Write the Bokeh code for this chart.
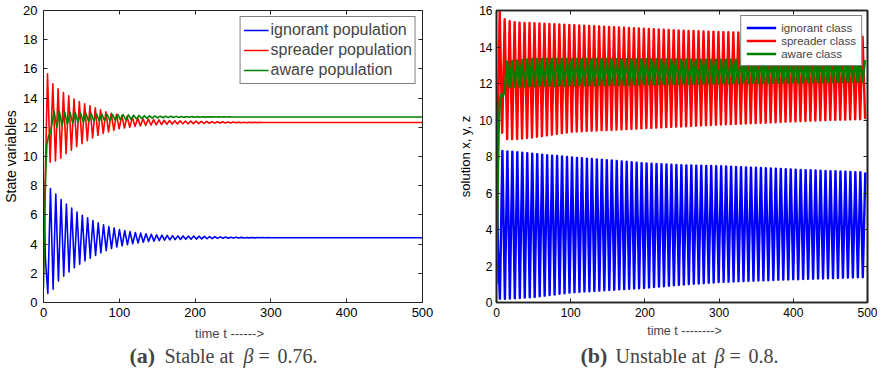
import numpy as np
from bokeh.plotting import figure
from bokeh.models import Range1d, LinearAxis, FixedTicker, Label, Legend, LegendItem
from bokeh.layouts import row, column
from bokeh.embed import file_html
from bokeh.resources import INLINE

# ---------------- data ----------------
T_END = 500.0

# Panel (a): stable at beta = 0.76
period_a = 7.0
ign_a_pre_t = [0.0, 2.5]
ign_a_pre_v = [8.4, 3.0]
spr_a_pre_t = [0.0, 2.5]
spr_a_pre_v = [2.0, 9.0]
awa_a_pre_t = [0.0, 1.5, 3.0, 4.5, 6.5, 9.0, 11.0]
awa_a_pre_v = [1.0, 5.5, 9.0, 10.8, 11.4, 11.6, 12.2]
ign_a_env_t = [5, 10, 20, 30, 40, 50, 60, 70, 80, 90, 100, 120, 140, 160, 180, 200, 230, 260, 300]
ign_a_hi = [7.8, 7.8, 7.2, 6.75, 6.35, 6.0, 5.75, 5.5, 5.3, 5.15, 5.0, 4.8, 4.68, 4.6, 4.56, 4.55, 4.5, 4.46, 4.44]
ign_a_lo = [0.6, 0.7, 1.5, 1.95, 2.35, 2.7, 3.0, 3.25, 3.5, 3.7, 3.85, 4.05, 4.18, 4.27, 4.32, 4.34, 4.39, 4.42, 4.44]
spr_a_env_t = [5, 10, 20, 30, 40, 50, 60, 70, 80, 90, 100, 120, 140, 160, 180, 200, 230, 260, 300]
spr_a_hi = [15.7, 15.1, 14.6, 14.25, 13.95, 13.7, 13.5, 13.3, 13.1, 12.95, 12.85, 12.65, 12.55, 12.48, 12.44, 12.42, 12.38, 12.35, 12.33]
spr_a_lo = [9.6, 9.6, 9.75, 10.2, 10.55, 10.85, 11.15, 11.4, 11.6, 11.75, 11.9, 12.05, 12.15, 12.2, 12.24, 12.25, 12.29, 12.31, 12.33]
awa_a_env_t = [14, 20, 30, 40, 50, 60, 80, 100, 130, 160, 200, 250]
awa_a_hi = [13.1, 13.1, 13.05, 13.0, 12.98, 12.95, 12.9, 12.88, 12.8, 12.76, 12.73, 12.71]
awa_a_lo = [12.0, 12.0, 12.2, 12.3, 12.35, 12.4, 12.45, 12.5, 12.6, 12.66, 12.69, 12.71]
ign_a_eq, spr_a_eq, awa_a_eq = 4.44, 12.33, 12.71

# Panel (b): unstable at beta = 0.8
period_b = 6.7
ign_b_pre_t = [0.0, 2.0]
ign_b_pre_v = [8.4, 3.0]
spr_b_pre_t = [0.0, 2.0]
spr_b_pre_v = [2.0, 10.0]
awa_b_pre_t = [0.0, 1.5, 3.0, 4.5, 6.0, 8.5, 11.0]
awa_b_pre_v = [1.0, 6.0, 9.5, 11.0, 11.4, 11.3, 11.6]
ign_b_env_t = [4, 10, 50, 100, 150, 200, 250, 300, 350, 400, 450, 500]
ign_b_hi = [8.3, 8.3, 8.15, 7.95, 7.8, 7.62, 7.52, 7.47, 7.38, 7.28, 7.2, 7.12]
ign_b_lo = [0.2, 0.2, 0.3, 0.55, 0.68, 0.8, 0.98, 1.12, 1.2, 1.27, 1.33, 1.4]
spr_b_env_t = [4, 8, 14, 25, 50, 100, 150, 200, 250, 300, 350, 400, 450, 500]
spr_b_hi = [16.0, 15.6, 15.45, 15.35, 15.3, 15.2, 15.1, 15.0, 14.9, 14.82, 14.77, 14.72, 14.65, 14.55]
spr_b_lo = [9.3, 9.3, 8.95, 8.95, 9.05, 9.35, 9.45, 9.55, 9.65, 9.75, 9.83, 9.92, 10.0, 10.05]
awa_b_env_t = [14, 50, 100, 200, 300, 400, 500]
awa_b_hi = [13.2, 13.35, 13.35, 13.33, 13.3, 13.3, 13.28]
awa_b_lo = [11.8, 11.85, 11.88, 11.95, 12.0, 12.05, 12.1]

x_ticks = [0, 100, 200, 300, 400, 500]
y_ticks_a = list(range(0, 21, 2))
y_ticks_b = list(range(0, 17, 2))
labels_a = ["ignorant population", "spreader population", "aware population"]
labels_b = ["ignorant class", "spreader class", "aware class"]
colors = ["#0000ff", "#ff0000", "#008000"]


def build(pre_t, pre_v, t_first, first_peak, period, env_t, hi, lo, t_stop, eq=None):
    te = np.arange(t_first, t_stop + 1e-9, period / 2.0)
    k = np.arange(len(te))
    is_peak = (k % 2 == 0) == first_peak
    ve = np.where(is_peak, np.interp(te, env_t, hi), np.interp(te, env_t, lo))
    t = list(pre_t) + list(te)
    v = list(pre_v) + list(ve)
    if eq is not None:
        t.append(T_END)
        v.append(eq)
    return t, v


series_a = [
    build(ign_a_pre_t, ign_a_pre_v, 5.7, False, period_a, ign_a_env_t, ign_a_hi, ign_a_lo, 300, ign_a_eq),
    build(spr_a_pre_t, spr_a_pre_v, 5.3, True, period_a, spr_a_env_t, spr_a_hi, spr_a_lo, 300, spr_a_eq),
    build(awa_a_pre_t, awa_a_pre_v, 14.0, True, period_a, awa_a_env_t, awa_a_hi, awa_a_lo, 260, awa_a_eq),
]
series_b = [
    build(ign_b_pre_t, ign_b_pre_v, 4.6, False, period_b, ign_b_env_t, ign_b_hi, ign_b_lo, 500),
    build(spr_b_pre_t, spr_b_pre_v, 4.3, True, period_b, spr_b_env_t, spr_b_hi, spr_b_lo, 500),
    build(awa_b_pre_t, awa_b_pre_v, 14.3, True, period_b, awa_b_env_t, awa_b_hi, awa_b_lo, 500),
]

SANS = "Liberation Sans"
SERIF = "Liberation Serif"
PANEL_H = 322
STRIP_H = 46


def make_panel(width, ymax, yticks, borders, tick_size, outline_w, ylabel, ylabel_size, ylabel_standoff, ytick_standoff):
    bl, br, bt, bb = borders
    p = figure(width=width, height=PANEL_H, x_range=Range1d(0, 500), y_range=Range1d(0, ymax),
               output_backend="svg", toolbar_location=None,
               min_border_left=bl, min_border_right=br, min_border_top=bt, min_border_bottom=bb)
    p.xgrid.visible = False
    p.ygrid.visible = False
    p.outline_line_color = "#222222"
    p.outline_line_width = outline_w
    for ax, ticks in ((p.xaxis[0], x_ticks), (p.yaxis[0], yticks)):
        ax.ticker = FixedTicker(ticks=ticks)
        ax.major_tick_in = 4
        ax.major_tick_out = 0
        ax.minor_tick_line_color = None
        ax.axis_line_color = "#222222"
        ax.axis_line_width = outline_w
        ax.major_tick_line_color = "#222222"
        ax.major_label_text_font = SANS
        ax.major_label_text_font_size = tick_size
        ax.major_label_text_color = "black"
    p.xaxis[0].major_label_standoff = 5
    p.yaxis[0].major_label_standoff = ytick_standoff
    p.yaxis[0].axis_label = ylabel
    p.yaxis[0].axis_label_text_font = SANS
    p.yaxis[0].axis_label_text_font_size = ylabel_size
    p.yaxis[0].axis_label_text_font_style = "normal"
    p.yaxis[0].axis_label_text_color = "black"
    p.yaxis[0].axis_label_standoff = ylabel_standoff
    for loc, ticks in (("above", x_ticks), ("right", yticks)):
        ax = LinearAxis(ticker=FixedTicker(ticks=ticks), major_tick_in=4, major_tick_out=0,
                        minor_tick_line_color=None, major_label_text_font_size="1px",
                        major_label_overrides={t: "" for t in ticks},
                        major_label_standoff=0, axis_line_color="#222222",
                        axis_line_width=outline_w, major_tick_line_color="#222222")
        p.add_layout(ax, loc)
    return p


# ---------------- panel (a) ----------------
pa = make_panel(455, 20, y_ticks_a, (43, 33, 10, 20), "13px", 1, "State variables", "14px", 1, 6)
rend_a = [pa.line(t, v, line_color=c, line_width=1.6, line_join="round")
          for (t, v), c in zip(series_a, colors)]
leg_a = Legend(items=[LegendItem(label=l, renderers=[r]) for l, r in zip(labels_a, rend_a)],
               location="top_right", margin=6, padding=3, spacing=0, label_height=20, glyph_height=20,
               glyph_width=25, label_standoff=2, label_text_font=SANS, label_text_font_size="16px",
               border_line_color="black", border_line_width=1, background_fill_alpha=1.0)
leg_a.label_text_line_height = 1.0
pa.add_layout(leg_a)

# ---------------- panel (b) ----------------
pb = make_panel(422, 16, y_ticks_b, (37, 10, 10, 20), "12px", 1.6, "solution x, y, z", "13px", 3, 4)
rend_b = [pb.line(t, v, line_color=c, line_width=2.4, line_join="round")
          for (t, v), c in zip(series_b, colors)]
leg_b = Legend(items=[LegendItem(label=l, renderers=[r]) for l, r in zip(labels_b, rend_b)],
               location="top_right", margin=5, padding=5, spacing=0, label_height=13, glyph_height=13,
               glyph_width=30, label_standoff=5, label_text_font=SANS, label_text_font_size="11.5px",
               border_line_color="black", border_line_width=1, background_fill_alpha=1.0)
leg_b.label_text_line_height = 1.0
pb.add_layout(leg_b)

# ---------------- strip with axis titles and captions ----------------
W_TOTAL = 455 + 422
strip = figure(width=W_TOTAL, height=STRIP_H, x_range=Range1d(0, W_TOTAL),
               y_range=Range1d(PANEL_H + STRIP_H, PANEL_H), x_axis_type=None, y_axis_type=None,
               output_backend="svg", toolbar_location=None, min_border_left=0, min_border_right=0,
               min_border_top=0, min_border_bottom=0)
strip.xgrid.visible = False
strip.ygrid.visible = False
strip.outline_line_color = None

strip.add_layout(Label(x=229, y=333, text="time t ------>", text_font=SANS, text_font_size="13px",
                       text_align="center", text_baseline="middle"))
strip.add_layout(Label(x=684, y=330, text="time t -------->", text_font=SANS, text_font_size="12.5px",
                       text_align="center", text_baseline="middle"))

CAP_Y = 355
cap_a = [("(a)", 129, "bold", "22px"), ("Stable at", 164, "normal", "20px"),
         ("\u03b2", 243, "italic", "20px"), ("=", 258, "normal", "20px"), ("0.76.", 277, "normal", "20px")]
cap_b = [("(b)", 580, "bold", "22px"), ("Unstable at", 615, "normal", "20px"),
         ("\u03b2", 714, "italic", "20px"), ("=", 729, "normal", "20px"), ("0.8.", 748, "normal", "20px")]
for txt, px, style, size in cap_a + cap_b:
    strip.add_layout(Label(x=px, y=CAP_Y, text=txt, text_font=SERIF, text_font_size=size,
                           text_font_style=style, text_align="left", text_baseline="middle"))

layout = column(row(pa, pb), strip)
open("out.html", "w").write(file_html(layout, INLINE))
